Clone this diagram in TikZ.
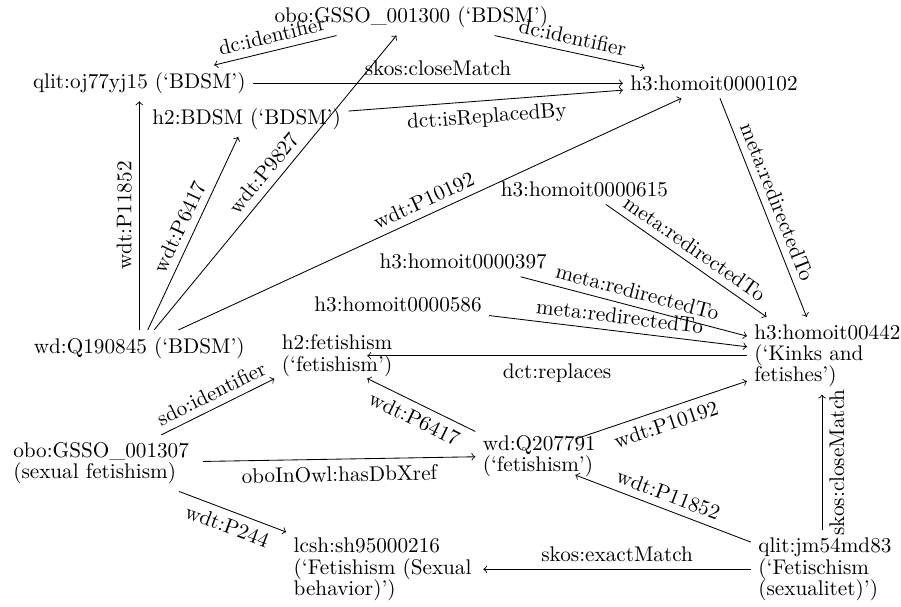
\documentclass[tikz,border=0pt]{standalone}
\hyphenpenalty=10000
\exhyphenpenalty=10000

\begin{document}
\begin{tikzpicture}[
    term/.style={
        align=left,
        font=\fontsize{10}{10.1}\selectfont
    },
    rel/.style={
        sloped,
        font=\fontsize{10}{10.1}\selectfont
    }
]

\useasboundingbox (0,0) rectangle (14.94,10.05);

\node[term] (gssobdsm) at (6.82,9.76) {obo:GSSO\_001300 (‘BDSM’)};
\node[term] (qlitbdsm) at (2.31,8.67) {qlit:oj77yj15 (‘BDSM’)};
\node[term] (hbdsm) at (4.09,8.08) {h2:BDSM (‘BDSM’)};
\node[term] (homoitbdsm) at (11.84,8.67) {h3:homoit0000102};
\node[term] (wdbdsm) at (2.31,4.28) {wd:Q190845 (‘BDSM’)};

\node[term] (homoit615) at (9.69,6.91) {h3:homoit0000615};
\node[term] (homoit397) at (7.68,5.71) {h3:homoit0000397};
\node[term] (homoit586) at (6.60,5.00) {h3:homoit0000586};

\node[term, text width=1.29cm] (hfetish) at (5.32,4.15) {h2:fetishism\\(‘fetishism’)};
\node[term, text width=2.24cm] (homoitkinks) at (13.63,4.15) {h3:homoit00442\\(‘Kinks and\\fetishes’)};
\node[term, text width=1.41cm] (wdfetish) at (8.71,2.49) {wd:Q207791\\(‘fetishism’)};
\node[term, text width=3.02cm] (gssofetish) at (1.73,2.37) {obo:GSSO\_001307\\(sexual fetishism)};
\node[term, text width=3.02cm] (lcsh) at (6.38,0.61) {lcsh:sh95000216\\(‘Fetishism (Sexual\\behavior)’)};
\node[term, text width=2.11cm] (qlitfetish) at (13.63,0.61) {qlit:jm54md83\\(‘Fetischism\\(sexualitet)’)};

\draw[->] (gssobdsm) -- node[rel, above] {dc:identifier} (qlitbdsm);
\draw[->] (gssobdsm) -- node[rel, above] {dc:identifier} (homoitbdsm);
\draw[->] (qlitbdsm) -- node[rel, above] {skos:closeMatch} (homoitbdsm);
\draw[->] (hbdsm) -- node[rel, below] {dct:isReplacedBy} (homoitbdsm);

\draw[->] (wdbdsm) -- node[rel, above] {wdt:P11852} (qlitbdsm);
\draw[->] (wdbdsm) -- node[rel, above] {wdt:P6417} (hbdsm);
\draw[->] (wdbdsm) -- node[rel, above] {wdt:P9827} (gssobdsm);
\draw[->] (wdbdsm) -- node[rel, above] {wdt:P10192} (homoitbdsm);

\draw[->] (homoitbdsm) -- node[rel, above] {meta:redirectedTo} (homoitkinks);
\draw[->] (homoit615) -- node[rel, above] {meta:redirectedTo} (homoitkinks);
\draw[->] (homoit397) -- node[rel, above] {meta:redirectedTo} (homoitkinks);
\draw[->] (homoit586) -- node[rel, above] {meta:redirectedTo} (homoitkinks);
\draw[->] (homoitkinks) -- node[rel, below] {dct:replaces} (hfetish);

\draw[->] (gssofetish) -- node[rel, above] {sdo:identifier} (hfetish);
\draw[->] (wdfetish) -- node[rel, below] {wdt:P6417} (hfetish);
\draw[->] (wdfetish) -- node[rel, below] {wdt:P10192} (homoitkinks);
\draw[->] (gssofetish) -- node[rel, below] {oboInOwl:hasDbXref} (wdfetish);
\draw[->] (gssofetish) -- node[rel, below] {wdt:P244} (lcsh);

\draw[->] (qlitfetish) -- node[rel, above] {wdt:P11852} (wdfetish);
\draw[->] (qlitfetish) -- node[rel, above] {skos:exactMatch} (lcsh);
\draw[->] (qlitfetish) -- node[rel, below] {skos:closeMatch} (homoitkinks);

\end{tikzpicture}
\end{document}
